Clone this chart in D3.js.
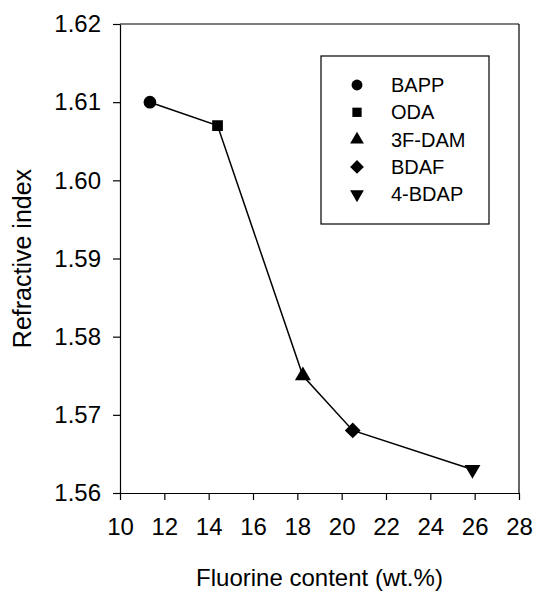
<!DOCTYPE html>
<html lang="en">
<head>
    <meta charset="UTF-8">
    <title>Refractive index</title>
    <script type="text/javascript" src="https://cdn.jsdelivr.net/npm/d3@7"></script>
    <style type="text/css">
        body {margin: 0; background: #fff;}
        text {font-family: Arial, "Liberation Sans", sans-serif; fill: #000;}
        .axis path, .axis line {stroke: #000; stroke-width: 1.2px;}
    </style>
</head>
<body>
    <script type="text/javascript">

        // data
        var compounds = ["BAPP", "ODA", "3F-DAM", "BDAF", "4-BDAP"];
        var fluorine = [11.35, 14.4, 18.25, 20.5, 25.9];
        var refIndex = [1.610, 1.607, 1.575, 1.568, 1.563];
        var xTicks = [10, 12, 14, 16, 18, 20, 22, 24, 26, 28];
        var yTicks = [1.56, 1.57, 1.58, 1.59, 1.60, 1.61, 1.62];

        //Width and height
        var w = 535;
        var h = 594;
        var pl = 120, pr = 519, pt = 24, pb = 493;

        var svg = d3.select("body")
            .append("svg")
            .attr("width", w)
            .attr("height", h);

        var x = d3.scaleLinear().domain([10, 28]).range([pl, pr]);
        var y = d3.scaleLinear().domain([1.56, 1.62]).range([pb, pt]);

        // symbols per compound (diamond = square turned 45)
        var shapes = [d3.symbolCircle, d3.symbolSquare, d3.symbolTriangle, d3.symbolSquare, d3.symbolTriangle];
        var sizes = [125, 115, 110, 125, 110];
        var rot = [0, 0, 0, 45, 180];

        // box top + right
        svg.append("line")
            .attr("x1", pl).attr("x2", pr)
            .attr("y1", pt).attr("y2", pt)
            .attr("stroke", "#000").attr("stroke-width", 1.2);
        svg.append("line")
            .attr("x1", pr).attr("x2", pr)
            .attr("y1", pt).attr("y2", pb)
            .attr("stroke", "#000").attr("stroke-width", 1.2);

        var xAxis = d3.axisBottom(x)
            .tickValues(xTicks)
            .tickSize(7)
            .tickSizeOuter(0)
            .tickPadding(18)
            .tickFormat(d3.format("d"));

        var yAxis = d3.axisLeft(y)
            .tickValues(yTicks)
            .tickSize(7)
            .tickSizeOuter(0)
            .tickPadding(12)
            .tickFormat(d3.format(".2f"));

        svg.append("g")
            .attr("class", "axis")
            .attr("transform", "translate(0," + pb + ")")
            .call(xAxis)
            .selectAll("text")
            .attr("font-size", "24px");

        svg.append("g")
            .attr("class", "axis")
            .attr("transform", "translate(" + pl + ",0)")
            .call(yAxis)
            .selectAll("text")
            .attr("font-size", "24px");

        svg.selectAll(".axis text")
            .style("font-family", "Arial, 'Liberation Sans', sans-serif");

        // axis titles
        svg.append("text")
            .text("Fluorine content (wt.%)")
            .attr("x", (pl + pr) / 2)
            .attr("y", 586)
            .attr("font-size", "24px")
            .attr("text-anchor", "middle");

        svg.append("text")
            .text("Refractive index")
            .attr("transform", "translate(31," + (pt + pb) / 2 + ") rotate(-90)")
            .attr("font-size", "25px")
            .attr("text-anchor", "middle");

        // line + markers
        var pts = compounds.map(function(d, i) { return {name: d, x: fluorine[i], y: refIndex[i], i: i}; });

        var line = d3.line()
            .x(function(d) { return x(d.x); })
            .y(function(d) { return y(d.y); });

        svg.append("path")
            .datum(pts)
            .attr("d", line)
            .attr("fill", "none")
            .attr("stroke", "#000")
            .attr("stroke-width", 1.5);

        svg.selectAll(".pt")
            .data(pts)
            .enter()
            .append("path")
            .attr("class", "pt")
            .attr("d", function(d) { return d3.symbol().type(shapes[d.i]).size(sizes[d.i])(); })
            .attr("transform", function(d) { return "translate(" + x(d.x) + "," + y(d.y) + ") rotate(" + rot[d.i] + ")"; })
            .attr("fill", "#000");

        // legend
        var lg = svg.append("g");
        lg.append("rect")
            .attr("x", 321).attr("y", 56)
            .attr("width", 168).attr("height", 168)
            .attr("fill", "#fff")
            .attr("stroke", "#000")
            .attr("stroke-width", 1.2);

        var rows = lg.selectAll(".row")
            .data(pts)
            .enter()
            .append("g")
            .attr("class", "row")
            .attr("transform", function(d, i) { return "translate(357," + (85 + i * 27.3) + ")"; });

        rows.append("path")
            .attr("d", function(d) { return d3.symbol().type(shapes[d.i]).size(sizes[d.i] * 0.75)(); })
            .attr("transform", function(d) { return "rotate(" + rot[d.i] + ")"; })
            .attr("fill", "#000");

        rows.append("text")
            .text(function(d) { return d.name; })
            .attr("x", 34)
            .attr("dy", "0.35em")
            .attr("font-size", "20px");

    </script>
</body>
</html>
